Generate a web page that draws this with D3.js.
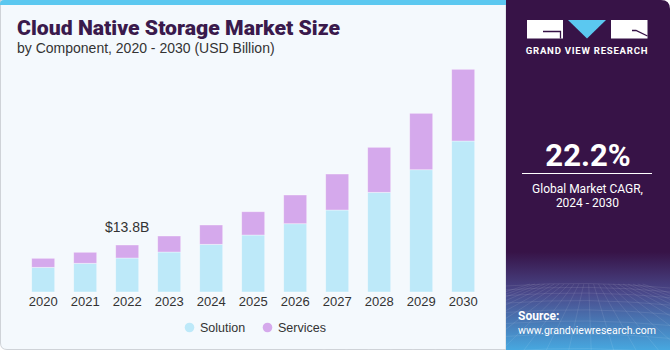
<!DOCTYPE html>
<html><head><meta charset="utf-8">
<script src="https://cdn.jsdelivr.net/npm/d3@7"></script>
<style>html,body{margin:0;padding:0;background:#fff;}svg{display:block;}</style>
</head><body>
<script>
const years = ["2020","2021","2022","2023","2024","2025","2026","2027","2028","2029","2030"];
const solution = [7.25, 8.43, 9.98, 11.74, 14.0, 16.73, 20.05, 24.07, 29.27, 35.9, 44.33];
const services = [2.64, 3.23, 3.82, 4.70, 5.67, 6.84, 8.43, 10.57, 13.21, 16.56, 21.05];
const seriesNames = ["Solution", "Services"];
const seriesColors = ["#bde9f9", "#d5a9ec"];
const annotation = {year: "2022", text: "$13.8B"};
const cagr = "22.2%";

const W = 670, H = 350;
const svg = d3.select("body").append("svg").attr("width", W).attr("height", H);
const defs = svg.append("defs");
const grad = defs.append("linearGradient").attr("id","pg").attr("x1",0).attr("y1",0).attr("x2",0).attr("y2",1);
grad.append("stop").attr("offset","0%").attr("stop-color","#371347");
grad.append("stop").attr("offset","72%").attr("stop-color","#371347");
grad.append("stop").attr("offset","84%").attr("stop-color","#4a4a8c");
grad.append("stop").attr("offset","100%").attr("stop-color","#47a8e0");

// left panel
svg.append("path")
  .attr("d", "M0.5,0 H506 V349.5 H7 Q0.5,349.5 0.5,343 Z")
  .attr("fill", "#f4f9fd").attr("stroke", "#cfd3d8").attr("stroke-width", 1);
svg.append("path").attr("d","M0,5 V4 Q0,0 4,0 H506 V5 Z").attr("fill","#5bc8f0");

// right panel
svg.append("path")
  .attr("d", "M506,0 H661 Q670,0 670,9 V350 H506 Z")
  .attr("fill", "url(#pg)");
// grid decoration
const gridG = svg.append("g").attr("stroke","#ffffff").attr("stroke-opacity",0.13).attr("stroke-width",0.7).attr("fill","none");
for (let i = 0; i < 9; i++) {
  const yy = 286 + i*i*0.9 + i*3;
  gridG.append("path").attr("d", `M506,${yy} Q588,${yy-6} 670,${yy+2}`);
}
for (let i = -6; i < 18; i++) {
  const xt = 506 + i*14;
  gridG.append("path").attr("d", `M${588 + (xt-588)*0.35},284 L${xt + (xt-588)*0.6},350`);
}

// logo
const lg = svg.append("g");
lg.append("rect").attr("x",527).attr("y",20).attr("width",36).attr("height",18.5).attr("fill","#fff");
lg.append("path").attr("d","M543,31.5 H560.5 V38.5").attr("stroke","#371347").attr("stroke-width",1.3).attr("fill","none");
lg.append("path").attr("d","M568,20 H606 L587,38.5 Z").attr("fill","#5bc8f0");
lg.append("rect").attr("x",611).attr("y",20).attr("width",36.5).attr("height",18.5).attr("fill","#fff");
lg.append("path").attr("d","M632,30.5 H636 L647.5,36").attr("stroke","#371347").attr("stroke-width",1.3).attr("fill","none");
lg.append("text").attr("x",587).attr("y",53.5).attr("text-anchor","middle")
  .attr("font-family","Roboto, 'Liberation Sans', sans-serif").attr("font-weight",700)
  .attr("font-size",9.6).attr("letter-spacing",0.75).attr("fill","#fff").text("GRAND VIEW RESEARCH");

// CAGR
svg.append("text").attr("x",588).attr("y",166).attr("text-anchor","middle")
  .attr("font-family","Roboto, 'Liberation Sans', sans-serif").attr("font-weight",700)
  .attr("font-size",31).attr("fill","#fff").text(cagr);
svg.append("line").attr("x1",522).attr("x2",652).attr("y1",173.5).attr("y2",173.5).attr("stroke","#fff").attr("stroke-width",1);
svg.append("text").attr("x",587.5).attr("y",193).attr("text-anchor","middle")
  .attr("font-family","Roboto, 'Liberation Sans', sans-serif").attr("font-size",12).attr("fill","#fff").text("Global Market CAGR,");
svg.append("text").attr("x",587.5).attr("y",207).attr("text-anchor","middle")
  .attr("font-family","Roboto, 'Liberation Sans', sans-serif").attr("font-size",12).attr("fill","#fff").text("2024 - 2030");

// source
svg.append("text").attr("x",518).attr("y",320).attr("font-family","Roboto, 'Liberation Sans', sans-serif")
  .attr("font-weight",700).attr("font-size",12).attr("fill","#fff").text("Source:");
svg.append("text").attr("x",518).attr("y",334).attr("font-family","Roboto, 'Liberation Sans', sans-serif")
  .attr("font-size",11.5).attr("textLength",138).attr("lengthAdjust","spacingAndGlyphs")
  .attr("fill","#fff").text("www.grandviewresearch.com");

// titles
svg.append("text").attr("x",17).attr("y",35).attr("font-family","Roboto, 'Liberation Sans', sans-serif")
  .attr("font-weight",900).attr("font-size",20).attr("textLength",323).attr("lengthAdjust","spacingAndGlyphs")
  .attr("fill","#3a1a4c").text("Cloud Native Storage Market Size");
svg.append("text").attr("x",17).attr("y",53).attr("font-family","'Liberation Sans', Arial, sans-serif")
  .attr("font-size",14).attr("fill","#333").text("by Component, 2020 - 2030 (USD Billion)");

// chart
const baseline = 292;
const x = d3.scaleBand().domain(years).range([22.2, 484.2]).paddingInner(0.452).paddingOuter(0.226);
const y = d3.scaleLinear().domain([0, 70]).range([baseline, baseline - 70*3.406]);

const data = years.map((yr, i) => ({year: yr, Solution: solution[i], Services: services[i]}));
const stack = d3.stack().keys(seriesNames)(data);

svg.append("g").selectAll("g").data(stack).join("g")
  .attr("fill", (d, i) => seriesColors[i])
  .selectAll("rect").data(d => d).join("rect")
  .attr("x", d => x(d.data.year))
  .attr("width", x.bandwidth())
  .attr("y", d => y(d[1]))
  .attr("height", d => y(d[0]) - y(d[1]))
  .attr("stroke", "#ffffff").attr("stroke-opacity", 0.45).attr("stroke-width", 0.8);

// axis labels
const xAxis = d3.axisBottom(x).tickSize(0).tickPadding(0);
const ax = svg.append("g").attr("transform", `translate(0,${baseline})`).call(xAxis);
ax.select(".domain").remove();
ax.selectAll("text").attr("dy", null).attr("y", 13.5)
  .attr("font-family","'Liberation Sans', Arial, sans-serif").attr("font-size",13).attr("fill","#333");

// annotation
const ai = years.indexOf(annotation.year);
svg.append("text").attr("x", x(annotation.year) + x.bandwidth()/2).attr("y", y(solution[ai] + services[ai]) - 13)
  .attr("text-anchor","middle").attr("font-family","'Liberation Sans', Arial, sans-serif")
  .attr("font-size",14).attr("fill","#333").text(annotation.text);

// legend
const legend = svg.append("g");
const lx = [189.5, 267.5];
seriesNames.forEach((n, i) => {
  legend.append("circle").attr("cx", lx[i]).attr("cy", 327.5).attr("r", 4.8).attr("fill", seriesColors[i]);
  legend.append("text").attr("x", lx[i] + 10.5).attr("y", 332).attr("font-family","'Liberation Sans', Arial, sans-serif")
    .attr("font-size",12.5).attr("fill","#333").text(n);
});
</script>
</body></html>
